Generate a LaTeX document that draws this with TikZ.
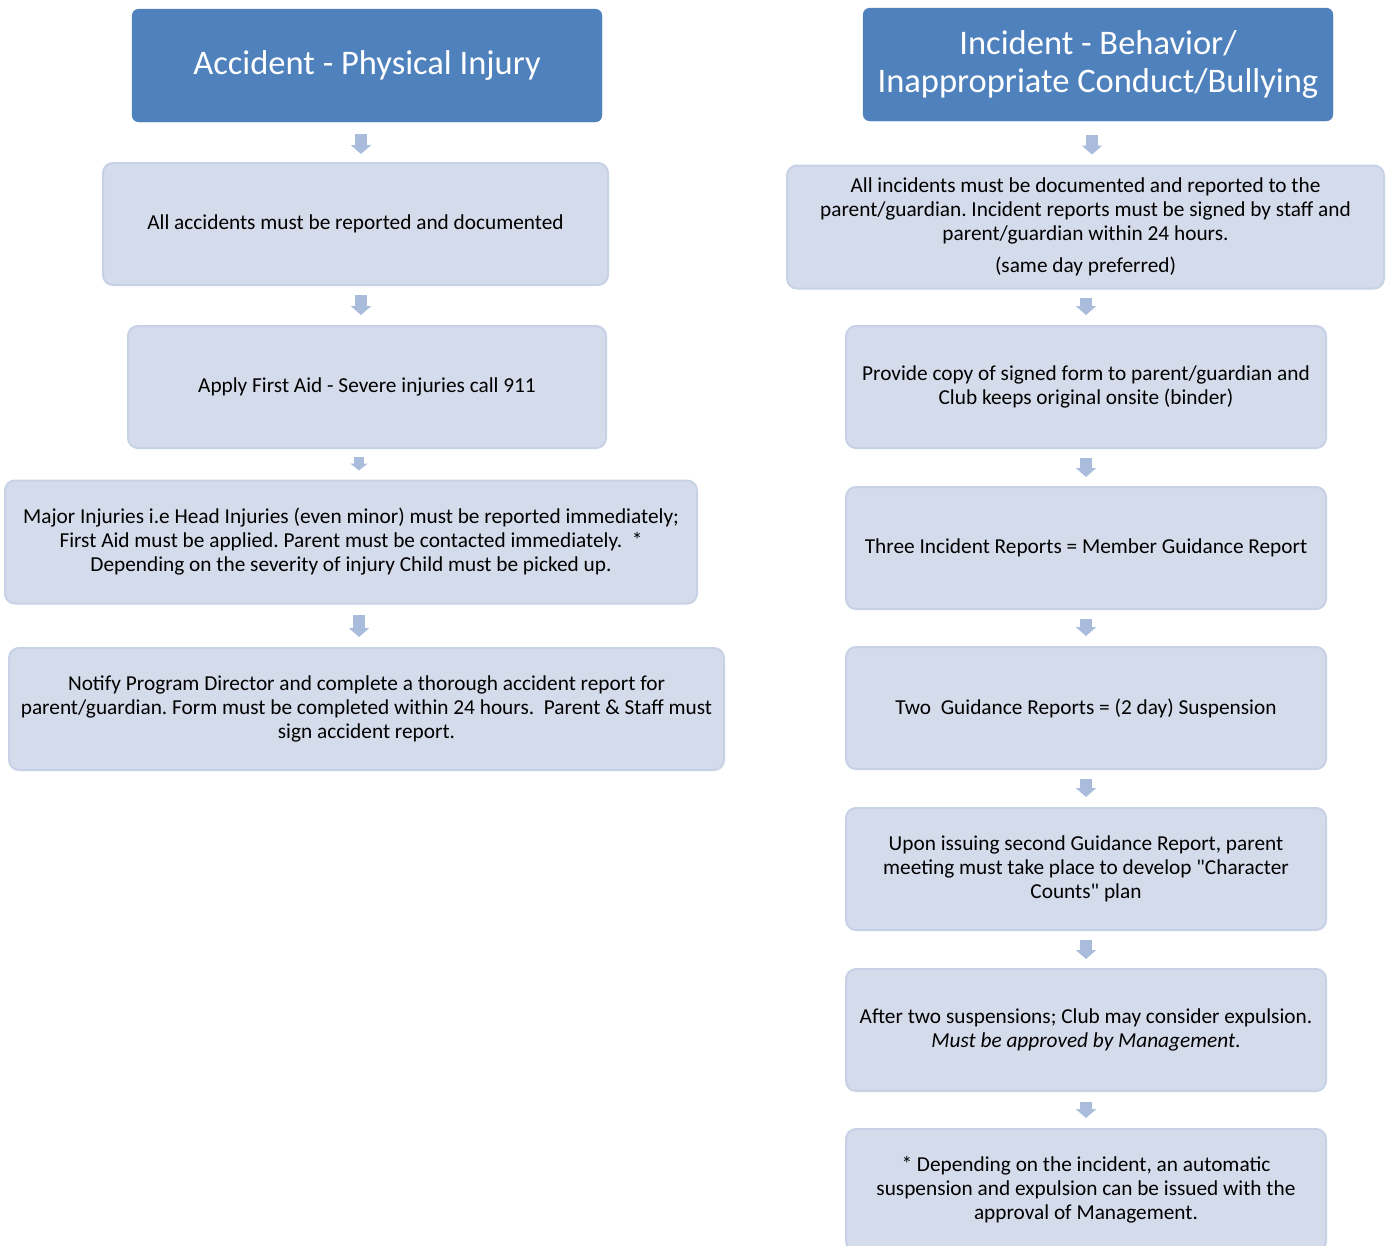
\documentclass[tikz,border=0pt]{standalone}
\usepackage{fontspec}
\setmainfont{Carlito}[Ligatures=TeXOff]
\usetikzlibrary{arrows.meta}
\definecolor{hdr}{HTML}{4F81BD}
\definecolor{boxfill}{HTML}{D4DBEA}
\definecolor{boxline}{HTML}{C8D2E6}
\definecolor{arr}{HTML}{A9BCDC}
\frenchspacing
\begin{document}
\begin{tikzpicture}[x=1pt,y=-1pt,
  hdrbox/.style={fill=hdr, draw=hdr, rounded corners=7pt, text=white,
    font=\fontsize{34.5}{38}\selectfont, align=center, inner sep=0pt},
  stepbox/.style={fill=boxfill, draw=boxline, line width=2pt, rounded corners=10pt,
    font=\fontsize{21.3}{24}\selectfont, align=center, inner sep=0pt},
  conn/.style={draw=arr, line width=12pt, -{Triangle[width=20pt,length=9pt]}}]
\useasboundingbox (0,0) rectangle (1386,1245);
\fill[white] (0,0) rectangle (1386,1245);
% left column
\node[hdrbox, minimum width=470pt, minimum height=113pt] (h1) at (367,65.5) {Accident - Physical Injury};
\node[stepbox, minimum width=505pt, minimum height=122pt] (a1) at (355.5,224) {All accidents must be reported and documented};
\node[stepbox, minimum width=478pt, minimum height=122pt] (a2) at (367,387) {Apply First Aid - Severe injuries call 911};
\node[stepbox, minimum width=692pt, minimum height=123pt] (a3) at (351,542) {Major Injuries i.e Head Injuries (even minor) must be reported immediately;\\ First Aid must be applied. Parent must be contacted immediately.~~*\\ Depending on the severity of injury Child must be picked up.};
\node[stepbox, minimum width=715pt, minimum height=122pt] (a4) at (366.5,709) {Notify Program Director and complete a thorough accident report for\\ parent/guardian. Form must be completed within 24 hours.~~Parent \& Staff must\\ sign accident report.};
% right column
\node[hdrbox, minimum width=470pt, minimum height=113pt] (h2) at (1098,64.5) {Incident - Behavior/\\ Inappropriate Conduct/Bullying};
\node[stepbox, minimum width=597pt, minimum height=123pt] (b1) at (1085.5,227) {All incidents must be documented and reported to the\\ parent/guardian. Incident reports must be signed by staff and\\ parent/guardian within 24 hours.\\[8pt] (same day preferred)};
\node[stepbox, minimum width=480pt, minimum height=122pt] (b2) at (1086,387) {Provide copy of signed form to parent/guardian and\\ Club keeps original onsite (binder)};
\node[stepbox, minimum width=480pt, minimum height=122pt] (b3) at (1086,548) {Three Incident Reports = Member Guidance Report};
\node[stepbox, minimum width=480pt, minimum height=122pt] (b4) at (1086,708) {Two~~Guidance Reports = (2 day) Suspension};
\node[stepbox, minimum width=480pt, minimum height=122pt] (b5) at (1086,869) {Upon issuing second Guidance Report, parent\\ meeting must take place to develop "Character\\ Counts" plan};
\node[stepbox, minimum width=480pt, minimum height=122pt] (b6) at (1086,1030) {After two suspensions; Club may consider expulsion.\\ \textit{Must be approved by Management}.};
\node[stepbox, minimum width=480pt, minimum height=122pt] (b7) at (1086,1190) {* Depending on the incident, an automatic\\ suspension and expulsion can be issued with the\\ approval of Management.};
% connectors left
\draw[conn] ([xshift=-6pt,yshift=-12pt]h1.south) -- ([xshift=5.5pt,yshift=8pt]a1.north);
\draw[conn] ([xshift=5.5pt,yshift=-9pt]a1.south) -- ([xshift=-6pt,yshift=10pt]a2.north);
\draw[conn, line width=10pt, -{Triangle[width=17pt,length=7pt]}] ([xshift=-8pt,yshift=-8pt]a2.south) -- ([xshift=8pt,yshift=9pt]a3.north);
\draw[conn] ([xshift=8pt,yshift=-10pt]a3.south) -- ([xshift=-7.5pt,yshift=10pt]a4.north);
% connectors right
\draw[conn] ([xshift=-6pt,yshift=-14pt]h2.south) -- ([xshift=6.5pt,yshift=10pt]b1.north);
\draw[conn] ([xshift=0.5pt,yshift=-8pt]b1.south) -- ([yshift=10pt]b2.north);
\draw[conn] ([yshift=-9pt]b2.south) -- ([yshift=9pt]b3.north);
\draw[conn] ([yshift=-9pt]b3.south) -- ([yshift=10pt]b4.north);
\draw[conn] ([yshift=-9pt]b4.south) -- ([yshift=10pt]b5.north);
\draw[conn] ([yshift=-9pt]b5.south) -- ([yshift=9pt]b6.north);
\draw[conn] ([yshift=-10pt]b6.south) -- ([yshift=10pt]b7.north);
\end{tikzpicture}
\end{document}
